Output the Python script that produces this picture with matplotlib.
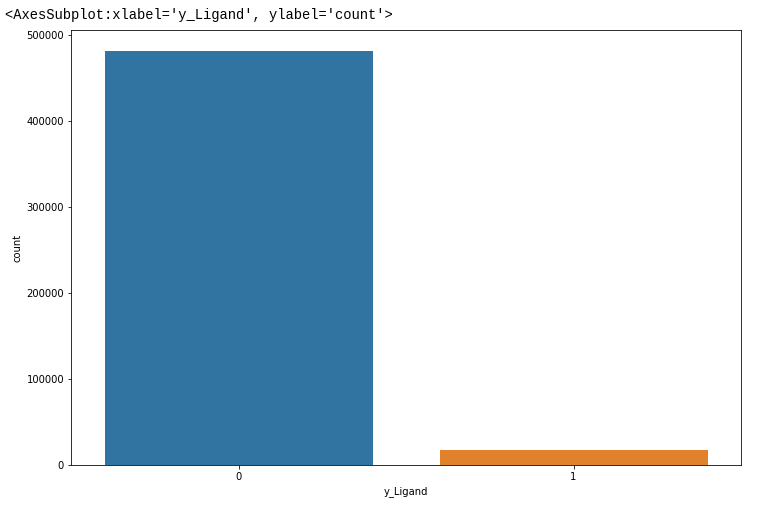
import matplotlib
matplotlib.use("Agg")
import matplotlib.pyplot as plt

categories = ["0", "1"]
counts = [481700, 17400]
colors = ["#3274a1", "#e1812c"]

W, H, DPI = 769, 521, 72
fig = plt.figure(figsize=(W / DPI, H / DPI), dpi=DPI)
left, right, top, bottom = 71, 741, 30, 465
ax = fig.add_axes([left / W, 1 - bottom / H, (right - left) / W, (bottom - top) / H])

x = list(range(len(categories)))
ax.bar(x, counts, width=0.8, color=colors)
ax.set_xticks(x)
ax.set_xticklabels(categories)
ax.set_xlim(-0.5, len(categories) - 0.5)
ax.set_ylim(0, max(counts) * 1.05)
ax.set_yticks([0, 100000, 200000, 300000, 400000, 500000])
ax.set_xlabel("y_Ligand")
ax.set_ylabel("count")

fig.text(5 / W, 1 - 15 / H, "<AxesSubplot:xlabel='y_Ligand', ylabel='count'>",
         family="Liberation Mono", fontsize=13.7, va="center", ha="left")

fig.savefig("out.png", dpi=DPI)
